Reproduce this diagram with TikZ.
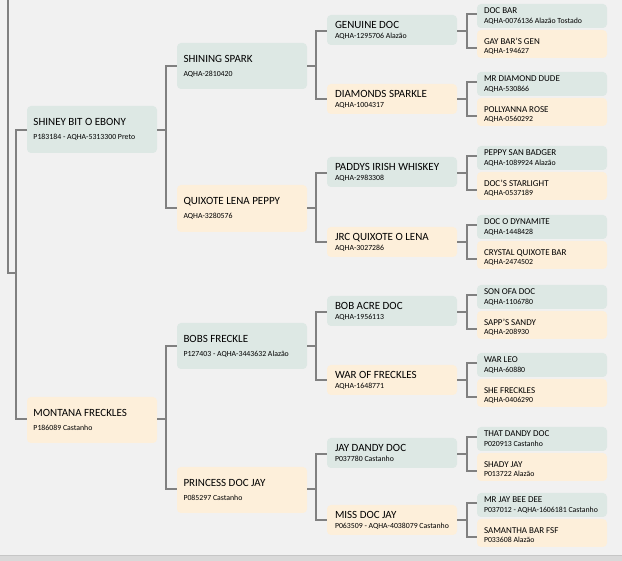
\documentclass[tikz,border=0pt]{standalone}
\usepackage{fontspec}
\setmainfont{Carlito}
\usetikzlibrary{calc}
\definecolor{bg}{HTML}{F1F1F1}
\definecolor{sire}{HTML}{DDE8E4}
\definecolor{dam}{HTML}{FDEFDA}
\definecolor{wire}{HTML}{808080}
\definecolor{band}{HTML}{D9D9D9}
\definecolor{bandline}{HTML}{C6C6C6}
\tikzset{
  card/.style={rounded corners=4pt, draw=none, minimum width=130pt, anchor=north west, inner sep=0pt, outer sep=0pt},
  m/.style={card, fill=sire},
  f/.style={card, fill=dam},
  txt/.style={anchor=base west, inner sep=0pt, outer sep=0pt, text=black},
  nmA/.style={txt, xshift=6.5pt, yshift=-20pt, font=\fontsize{11}{13}\selectfont},
  idA/.style={txt, xshift=6.5pt, yshift=-34pt, font=\fontsize{7.8}{9}\selectfont},
  nmC/.style={txt, xshift=8pt, yshift=-14pt, font=\fontsize{11}{13}\selectfont},
  idC/.style={txt, xshift=8pt, yshift=-24pt, font=\fontsize{7.8}{9}\selectfont},
  nmU/.style={txt, xshift=7pt, yshift=-10pt, font=\fontsize{9}{11}\selectfont},
  idU/.style={txt, xshift=7pt, yshift=-20pt, font=\fontsize{7.8}{9}\selectfont},
  nmL/.style={txt, xshift=7pt, yshift=-15pt, font=\fontsize{9}{11}\selectfont},
  idL/.style={txt, xshift=7pt, yshift=-24pt, font=\fontsize{7.8}{9}\selectfont},
  conn/.style={draw=wire, line width=2pt},
}
% #1 name, #2 m/f, #3 x, #4 top, #5 height, #6 class, #7 stub offset, #8 horse, #9 id
\newcommand\pcard[9]{%
  \node[#2, minimum height=#5pt] (#1) at (#3,#4) {};
  \node[nm#6] (#1-n) at (#1.north west) {#8};
  \node[id#6] (#1-i) at (#1.north west) {#9};
  \coordinate (#1-w) at ($(#1.north west)+(0,#7)$);
  \coordinate (#1-e) at ($(#1.north east)+(0,#7)$);
}
\begin{document}
\begin{tikzpicture}[x=1pt,y=-1pt]
\path[fill=bg] (0,0) rectangle (622,561);
\useasboundingbox (0,0) rectangle (622,561);
\fill[band] (0,555.5) rectangle (622,561);
\draw[bandline, line width=1pt] (0,556) -- (622,556);

% generation 1
\pcard{a1}{m}{27}{106}{47}{A}{24}{SHINEY BIT O EBONY}{P183184 - AQHA-5313300 Preto}
\pcard{a2}{f}{27}{397}{46}{A}{22}{MONTANA FRECKLES}{P186089 Castanho}
% generation 2
\pcard{b1}{m}{177}{43}{46}{A}{23}{SHINING SPARK}{AQHA-2810420}
\pcard{b2}{f}{177}{185}{47}{A}{23}{QUIXOTE LENA PEPPY}{AQHA-3280576}
\pcard{b3}{m}{177}{323}{46}{A}{23}{BOBS FRECKLE}{P127403 - AQHA-3443632 Alazão}
\pcard{b4}{f}{177}{467}{46}{A}{22}{PRINCESS DOC JAY}{P085297 Castanho}
% generation 3
\pcard{c1}{m}{327}{15}{30}{C}{16}{GENUINE DOC}{AQHA-1295706 Alazão}
\pcard{c2}{f}{327}{84}{30}{C}{15}{DIAMONDS SPARKLE}{AQHA-1004317}
\pcard{c3}{m}{327}{157}{30}{C}{16}{PADDYS IRISH WHISKEY}{AQHA-2983308}
\pcard{c4}{f}{327}{227}{30}{C}{15}{JRC QUIXOTE O LENA}{AQHA-3027286}
\pcard{c5}{m}{327}{296}{30}{C}{16}{BOB ACRE DOC}{AQHA-1956113}
\pcard{c6}{f}{327}{365}{30}{C}{15}{WAR OF FRECKLES}{AQHA-1648771}
\pcard{c7}{m}{327}{438}{30}{C}{16}{JAY DANDY DOC}{P037780 Castanho}
\pcard{c8}{f}{327}{505}{30}{C}{15}{MISS DOC JAY}{P063509 - AQHA-4038079 Castanho}
% generation 4
\pcard{d1}{m}{477}{4}{24}{U}{10}{DOC BAR}{AQHA-0076136 Alazão Tostado}
\pcard{d2}{f}{477}{30}{28}{L}{18}{GAY BAR'S GEN}{AQHA-194627}
\pcard{d3}{m}{477}{72}{24}{U}{10}{MR DIAMOND DUDE}{AQHA-530866}
\pcard{d4}{f}{477}{98}{28}{L}{18}{POLLYANNA ROSE}{AQHA-0560292}
\pcard{d5}{m}{477}{146}{24}{U}{10}{PEPPY SAN BADGER}{AQHA-1089924 Alazão}
\pcard{d6}{f}{477}{172}{28}{L}{18}{DOC'S STARLIGHT}{AQHA-0537189}
\pcard{d7}{m}{477}{215}{24}{U}{10}{DOC O DYNAMITE}{AQHA-1448428}
\pcard{d8}{f}{477}{241}{28}{L}{18}{CRYSTAL QUIXOTE BAR}{AQHA-2474502}
\pcard{d9}{m}{477}{285}{24}{U}{10}{SON OFA DOC}{AQHA-1106780}
\pcard{d10}{f}{477}{311}{28}{L}{18}{SAPP'S SANDY}{AQHA-208930}
\pcard{d11}{m}{477}{353}{24}{U}{10}{WAR LEO}{AQHA-60880}
\pcard{d12}{f}{477}{379}{28}{L}{18}{SHE FRECKLES}{AQHA-0406290}
\pcard{d13}{m}{477}{427}{24}{U}{10}{THAT DANDY DOC}{P020913 Castanho}
\pcard{d14}{f}{477}{453}{28}{L}{18}{SHADY JAY}{P013722 Alazão}
\pcard{d15}{m}{477}{493}{24}{U}{10}{MR JAY BEE DEE}{P037012 - AQHA-1606181 Castanho}
\pcard{d16}{f}{477}{519}{28}{L}{18}{SAMANTHA BAR FSF}{P033608 Alazão}

% root connector
\coordinate (rj) at (16,273);
\coordinate (top) at (8,-2);
\draw[conn] (a1-w) -| (rj) |- (a2-w);
\draw[conn] (rj) -- ++(-8,0) -- (top);

% gen1 -> gen2
\draw[conn] (a1-e) -- ++(9,0) |- (b1-w);
\draw[conn] (a1-e) -- ++(9,0) |- (b2-w);
\draw[conn] (a2-e) -- ++(9,0) |- (b3-w);
\draw[conn] (a2-e) -- ++(9,0) |- (b4-w);
% gen2 -> gen3
\foreach \p/\u/\l in {b1/c1/c2, b2/c3/c4, b3/c5/c6, b4/c7/c8}{
  \draw[conn] (\p-e) -- ++(9,0) |- (\u-w);
  \draw[conn] (\p-e) -- ++(9,0) |- (\l-w);
}
% gen3 -> gen4
\foreach \p/\u/\l in {c1/d1/d2, c2/d3/d4, c3/d5/d6, c4/d7/d8, c5/d9/d10, c6/d11/d12, c7/d13/d14, c8/d15/d16}{
  \draw[conn] (\p-e) -- ++(10,0) |- (\u-w);
  \draw[conn] (\p-e) -- ++(10,0) |- (\l-w);
}
\end{tikzpicture}
\end{document}
